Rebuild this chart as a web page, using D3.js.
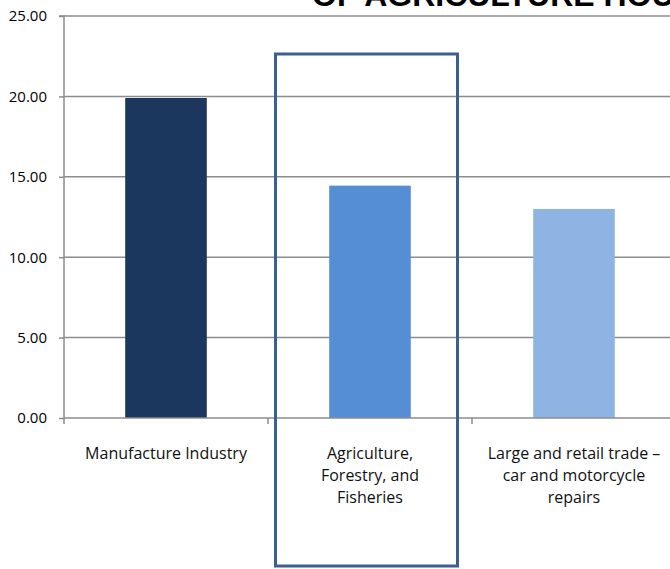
<!DOCTYPE html>
<html><head><meta charset="utf-8">
<script src="https://cdn.jsdelivr.net/npm/d3@7"></script>
<style>
html,body{margin:0;padding:0;background:#fff;}
svg{display:block;font-family:"Open Sans",Lato,sans-serif;}
</style></head>
<body><svg id="c" width="670" height="569"></svg>
<script>
const categories = ["Manufacture Industry", "Agriculture, Forestry, and Fisheries", "Large and retail trade – car and motorcycle repairs"];
const categoryLines = [["Manufacture Industry"], ["Agriculture,", "Forestry, and", "Fisheries"], ["Large and retail trade –", "car and motorcycle", "repairs"]];
const values = [19.9, 14.45, 13.0];
const colors = ["#1b375e", "#558ed5", "#8eb4e3"];
const yTicks = [0, 5, 10, 15, 20, 25];
const titleText = "OF AGRICULTURE HOUSEHOLD";
const highlighted = "Agriculture, Forestry, and Fisheries";

const svg = d3.select("#c");
const x0 = 64, x1 = 676, yTop = 16, yBot = 418;
const x = d3.scaleBand().domain(categories).range([x0, x1]).paddingInner(0.6).paddingOuter(0.3);
const xb = d3.scaleBand().domain(categories).range([x0, x1]);
const y = d3.scaleLinear().domain([0, 25]).range([yBot, yTop]);

// gridlines
svg.append("g").selectAll("line").data(yTicks.filter(d => d > 0)).join("line")
  .attr("x1", x0).attr("x2", 670).attr("y1", d => y(d)).attr("y2", d => y(d))
  .attr("stroke", "#8c8c8c").attr("stroke-width", 1.5);

// title (clipped at top, as in the reference)
svg.append("text").attr("x", 312).attr("y", 6).attr("font-family", "'Liberation Sans', Arial, sans-serif")
  .attr("font-weight", "bold").attr("font-size", 32).attr("fill", "#000").text(titleText);

// bars
svg.append("g").selectAll("rect").data(categories).join("rect")
  .attr("x", d => x(d)).attr("width", x.bandwidth())
  .attr("y", (d, i) => y(values[i])).attr("height", (d, i) => y(0) - y(values[i]))
  .attr("fill", (d, i) => colors[i]);

// y axis
const ya = d3.axisLeft(y).tickValues(yTicks).tickFormat(d3.format(".2f")).tickSize(5).tickPadding(12);
const gy = svg.append("g").attr("transform", `translate(${x0},0)`).call(ya);
gy.select(".domain").attr("stroke", "#8c8c8c").attr("stroke-width", 1.5).attr("d", `M-5,${yTop}H0V${yBot}`);
gy.selectAll(".tick line").attr("stroke", "#8c8c8c").attr("stroke-width", 1.5);
gy.selectAll(".tick text").attr("font-size", 15).attr("fill", "#000").attr("font-family", "'Open Sans',sans-serif");

// x axis
const gx = svg.append("g").attr("transform", `translate(0,${yBot})`);
gx.append("line").attr("x1", x0).attr("x2", 670).attr("stroke", "#8c8c8c").attr("stroke-width", 1.5);
gx.selectAll("line.t").data(categories.concat(["end"])).join("line").attr("class", "t")
  .attr("x1", (d, i) => x0 + i * xb.bandwidth()).attr("x2", (d, i) => x0 + i * xb.bandwidth())
  .attr("y1", 0).attr("y2", 6).attr("stroke", "#8c8c8c").attr("stroke-width", 1.5);

// category labels
const lab = svg.append("g").selectAll("text").data(categories).join("text")
  .attr("text-anchor", "middle").attr("font-size", 16).attr("fill", "#111");
lab.each(function(d, i) {
  const t = d3.select(this);
  categoryLines[i].forEach((ln, j) => {
    t.append("tspan").attr("x", xb(d) + xb.bandwidth() / 2).attr("y", 459 + j * 22).text(ln);
  });
});

// highlight box
svg.append("rect")
  .attr("x", xb(highlighted) + 7.5).attr("y", 54)
  .attr("width", 182).attr("height", 512)
  .attr("fill", "none").attr("stroke", "#3b6090").attr("stroke-width", 3);
</script></body></html>
